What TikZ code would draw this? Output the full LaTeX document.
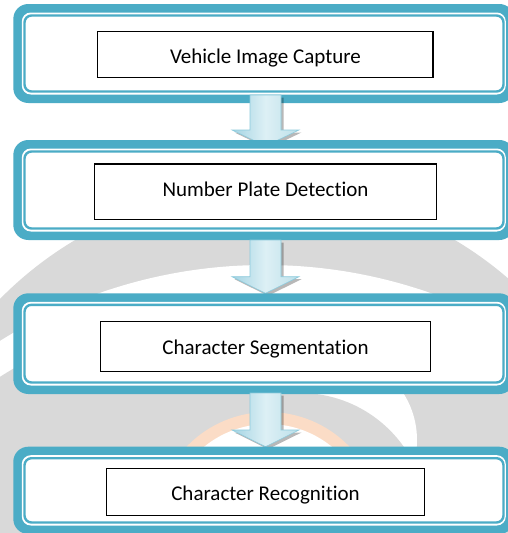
\documentclass[tikz,border=0pt]{standalone}
\usepackage{fontspec}
\setmainfont{Carlito}[Ligatures={NoCommon}]
\definecolor{frame}{HTML}{4BACC6}
\definecolor{wm}{HTML}{D9D9D9}
\definecolor{wmorange}{HTML}{FBDCC6}
\definecolor{arrL}{HTML}{A4D4E3}
\definecolor{arrM}{HTML}{DDF0F5}
\definecolor{arrR}{HTML}{BCE0EA}
\definecolor{arrE}{HTML}{8CCADC}
\newcommand\stageframe[2]{%
  \fill[frame, rounded corners=15pt] (13.3,#1) rectangle (514.3,#2);
  \fill[white, rounded corners=9pt] (21.8,#1+8.5) rectangle (505.8,#2-8.5);
  \draw[frame, line width=2.4pt, rounded corners=7pt] (24.5,#1+11.5) rectangle (503.5,#2-11.5);}
\newcommand\flowarrow[3]{%
  \begin{scope}[shift={(2.5,2.5)}]
    \fill[black, opacity=.28] (250,#1) -- (281,#1) -- (281,#2) -- (299,#2) -- (265.5,#3) -- (232,#2) -- (250,#2) -- cycle;
  \end{scope}
  \path[left color=arrL, right color=arrR, middle color=arrM, draw=arrE, line width=.6pt]
    (250,#1) -- (281,#1) -- (281,#2) -- (299,#2) -- (265.5,#3) -- (232,#2) -- (250,#2) -- cycle;}
\begin{document}
\begin{tikzpicture}[x=1pt,y=-1pt,
  stepbox/.style={draw=black, line width=1.4pt, fill=white, inner sep=0pt},
  lbl/.style={font=\fontsize{21}{25}\selectfont, inner sep=0pt, anchor=base}]
\useasboundingbox (0,0) rectangle (508,533);
\begin{scope}
\clip (0,0) rectangle (508,533);
\fill[white] (0,0) rectangle (508,533);
% watermark
\fill[wm] (265,560) circle[radius=372];
\fill[white] (265,765) circle[radius=500];
\fill[wm] (265,795) circle[radius=495];
\fill[white] (330,440) circle[radius=87];
\fill[wm] (300,520) circle[radius=127];
\fill[wmorange] (268,525) circle[radius=113];
\fill[white] (268,525) circle[radius=101];
% stage 1
\stageframe{4}{103}
\node[stepbox, minimum width=335.3pt, minimum height=46pt] (r1) at (265.35,54.7) {};
\node[lbl] (t1) at (265.5,63.3) {Vehicle Image Capture};
\flowarrow{95}{130}{146}
% stage 2
\stageframe{140}{240}
\node[stepbox, minimum width=342.4pt, minimum height=55.3pt] (r2) at (265.5,191.65) {};
\node[lbl] (t2) at (265.5,196.7) {Number Plate Detection};
\flowarrow{240}{276.7}{293.3}
% stage 3
\stageframe{293.3}{394}
\node[stepbox, minimum width=330pt, minimum height=50pt] (r3) at (265.7,346.3) {};
\node[lbl] (t3) at (265.5,354) {Character Segmentation};
\flowarrow{393}{430}{446.7}
% stage 4
\stageframe{446.7}{534}
\node[stepbox, minimum width=317.6pt, minimum height=47.4pt] (r4) at (265.5,492) {};
\node[lbl] (t4) at (265.5,500.7) {Character Recognition};
\end{scope}
\end{tikzpicture}
\end{document}
